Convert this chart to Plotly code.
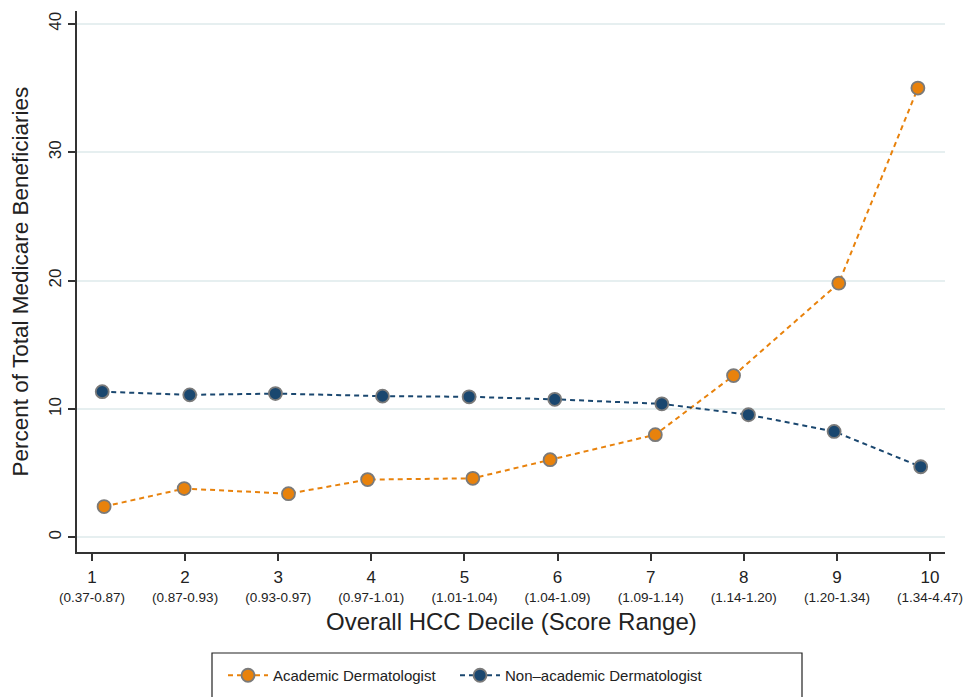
import plotly.graph_objects as go

deciles = [1, 2, 3, 4, 5, 6, 7, 8, 9, 10]
score_ranges = ["(0.37-0.87)", "(0.87-0.93)", "(0.93-0.97)", "(0.97-1.01)", "(1.01-1.04)",
                "(1.04-1.09)", "(1.09-1.14)", "(1.14-1.20)", "(1.20-1.34)", "(1.34-4.47)"]

# plotted positions (points are jittered around each decile in the original)
academic_x = [1.13, 1.99, 3.11, 3.96, 5.09, 5.92, 7.05, 7.89, 9.02, 9.87]
academic_pct = [2.4, 3.8, 3.4, 4.5, 4.6, 6.05, 8.0, 12.6, 19.8, 35.0]

nonacademic_x = [1.11, 2.05, 2.97, 4.12, 5.05, 5.97, 7.12, 8.05, 8.97, 9.90]
nonacademic_pct = [11.35, 11.1, 11.2, 11.0, 10.95, 10.75, 10.4, 9.55, 8.25, 5.5]

y_ticks = [0, 10, 20, 30, 40]

orange = "#E8820C"
navy = "#1A476F"
FONT = "Arial, Liberation Sans, sans-serif"

fig = go.Figure()
fig.add_trace(go.Scatter(
    x=academic_x, y=academic_pct, mode="lines+markers", name="Academic Dermatologist",
    line=dict(color=orange, dash="5px,4px", width=2),
    marker=dict(color=orange, size=13, line=dict(color="#7a7a7a", width=1.8)),
    legend="legend",
))
fig.add_trace(go.Scatter(
    x=nonacademic_x, y=nonacademic_pct, mode="lines+markers", name="Non\u2013academic Dermatologist",
    line=dict(color=navy, dash="5px,4px", width=2),
    marker=dict(color=navy, size=13, line=dict(color="#7a7a7a", width=1.8)),
    legend="legend2",
))

ticktext = [f"<span style='font-size:17px'>{d}</span><br><span style='font-size:13.5px'>{r}</span>"
            for d, r in zip(deciles, score_ranges)]

# plot area in px: x 77..945, y 11..552
def px_x(p):
    return (p - 77) / 868

def px_y(p):
    return (552 - p) / 541

legend_common = dict(orientation="h", xanchor="left", yanchor="top", y=px_y(659),
                     borderwidth=0, font=dict(size=15), bgcolor="rgba(0,0,0,0)", itemwidth=40)

fig.update_layout(
    width=968, height=697,
    margin=dict(l=77, r=23, t=11, b=145, autoexpand=False),
    paper_bgcolor="white", plot_bgcolor="white",
    font=dict(family=FONT, color="#222"),
    showlegend=True,
    legend=dict(x=px_x(223), **legend_common),
    legend2=dict(x=px_x(455), **legend_common),
    xaxis=dict(
        range=[0.839, 10.161], tickvals=deciles, ticktext=ticktext, automargin=False,
        tickfont=dict(size=15), ticks="outside", ticklen=7, tickcolor="#333", tickwidth=1.5,
        ticklabelstandoff=4,
        showline=True, linecolor="#333", linewidth=1.5, showgrid=False, zeroline=False,
    ),
    yaxis=dict(
        range=[-1.14, 41.0], tickvals=y_ticks, tickangle=-90, automargin=False,
        tickfont=dict(size=17), ticks="outside", ticklen=7, tickcolor="#333", tickwidth=1.5,
        showline=True, linecolor="#333", linewidth=1.5,
        showgrid=True, gridcolor="#E6EFF0", gridwidth=1.5, zeroline=False,
    ),
    shapes=[dict(type="rect", xref="paper", yref="paper",
                 x0=px_x(212), x1=px_x(802), y0=px_y(653), y1=px_y(720),
                 line=dict(color="#222", width=1.2), fillcolor="rgba(0,0,0,0)")],
    annotations=[
        dict(text="Overall HCC Decile (Score Range)", xref="paper", yref="paper",
             x=0.5, y=px_y(621), xanchor="center", yanchor="middle",
             showarrow=False, font=dict(size=24, family=FONT, color="#222")),
        dict(text="Percent of Total Medicare Beneficiaries", xref="paper", yref="paper",
             x=px_x(20), y=0.5, xanchor="center", yanchor="middle", textangle=-90,
             showarrow=False, font=dict(size=22.5, family=FONT, color="#222")),
    ],
)

fig.write_html("out.html", config={"displayModeBar": False},
               post_script="document.body.style.margin='0';document.body.style.overflow='hidden';")
